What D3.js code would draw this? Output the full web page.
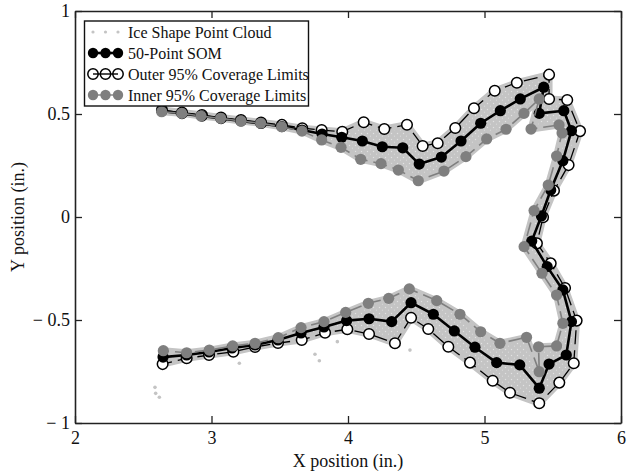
<!DOCTYPE html>
<html>
<head>
<meta charset="utf-8">
<script src="https://cdn.jsdelivr.net/npm/d3@7"></script>
<style>
  html, body { margin: 0; padding: 0; background: #fff; }
  svg { display: block; }
  text { font-family: "Liberation Serif", "Times New Roman", serif; fill: #111; }
</style>
</head>
<body>
<svg id="chart" width="627" height="473"></svg>
<script>
// ---------- data (inches) ----------
const somX = [2.637,2.784,2.930,3.070,3.216,3.363,3.516,3.663,3.810,3.954,4.105,4.251,4.401,4.522,4.684,4.828,4.972,5.116,5.262,5.434,5.401,5.581,5.637,5.574,5.485,5.417,5.346,5.459,5.574,5.637,5.599,5.473,5.401,5.258,5.089,4.930,4.779,4.625,4.462,4.320,4.154,3.990,3.824,3.656,3.487,3.319,3.150,2.982,2.818,2.645];
const somY = [0.515,0.502,0.490,0.478,0.466,0.454,0.439,0.422,0.403,0.387,0.369,0.341,0.336,0.257,0.291,0.369,0.455,0.516,0.573,0.630,0.503,0.516,0.419,0.273,0.131,0.005,-0.117,-0.241,-0.354,-0.508,-0.670,-0.714,-0.831,-0.718,-0.707,-0.632,-0.553,-0.472,-0.416,-0.508,-0.494,-0.503,-0.534,-0.563,-0.597,-0.621,-0.636,-0.655,-0.670,-0.680];

const outerX = [2.637,2.784,2.930,3.070,3.216,3.363,3.516,3.665,3.807,3.958,4.115,4.266,4.432,4.547,4.657,4.786,4.923,5.075,5.237,5.473,5.473,5.606,5.700,5.616,5.509,5.429,5.384,5.485,5.590,5.675,5.654,5.548,5.401,5.187,5.060,4.894,4.735,4.588,4.462,4.344,4.154,3.995,3.832,3.661,3.487,3.319,3.160,2.982,2.818,2.642];
const outerY = [0.519,0.507,0.495,0.483,0.471,0.459,0.447,0.431,0.422,0.414,0.460,0.427,0.448,0.345,0.358,0.432,0.528,0.613,0.652,0.691,0.573,0.568,0.417,0.252,0.128,-0.001,-0.128,-0.225,-0.345,-0.503,-0.710,-0.804,-0.904,-0.853,-0.795,-0.707,-0.630,-0.544,-0.489,-0.613,-0.568,-0.545,-0.562,-0.597,-0.612,-0.631,-0.654,-0.670,-0.686,-0.714];

const innerX = [2.635,2.782,2.923,3.067,3.216,3.360,3.514,3.663,3.807,3.949,4.093,4.242,4.369,4.515,4.703,4.864,5.016,5.158,5.289,5.401,5.341,5.546,5.568,5.528,5.467,5.363,5.290,5.421,5.528,5.574,5.528,5.396,5.401,5.308,5.113,4.972,4.820,4.650,4.449,4.298,4.149,3.983,3.824,3.656,3.489,3.319,3.155,2.984,2.818,2.647];
const innerY = [0.511,0.503,0.490,0.479,0.466,0.455,0.438,0.417,0.374,0.338,0.280,0.259,0.228,0.176,0.223,0.293,0.379,0.426,0.503,0.573,0.427,0.447,0.408,0.296,0.155,0.031,-0.144,-0.273,-0.379,-0.516,-0.626,-0.630,-0.751,-0.584,-0.613,-0.557,-0.472,-0.406,-0.349,-0.395,-0.419,-0.463,-0.508,-0.537,-0.586,-0.613,-0.626,-0.646,-0.659,-0.649];

// a few stray cloud points outside the main band
const strayX = [2.586,2.591,2.618,3.204,3.758,3.790,3.922,4.454];
const strayY = [-0.827,-0.856,-0.875,-0.710,-0.666,-0.698,-0.605,-0.646];

const xTicks = [2,3,4,5,6];
const yTicks = [-1,-0.5,0,0.5,1];
const legendLabels = ["Ice Shape Point Cloud","50-Point SOM","Outer 95% Coverage Limits","Inner 95% Coverage Limits"];

// ---------- layout ----------
const pL = 75, pR = 621, pT = 11, pB = 423;
const x = d3.scaleLinear().domain([2,6]).range([pL,pR]);
const y = d3.scaleLinear().domain([-1,1]).range([pB,pT]);

const svg = d3.select("#chart");
const CLOUD = "#c4c4c4", INNER = "#7f7f7f";

// speckled texture for the point cloud
const defs = svg.append("defs");
const pat = defs.append("pattern").attr("id", "cloudTex").attr("patternUnits", "userSpaceOnUse")
  .attr("width", 6).attr("height", 6);
pat.append("rect").attr("width", 6).attr("height", 6).attr("fill", CLOUD);
pat.append("circle").attr("cx", 1.5).attr("cy", 1.5).attr("r", 0.7).attr("fill", "#e2e2e2");
pat.append("circle").attr("cx", 4.5).attr("cy", 4.2).attr("r", 0.6).attr("fill", "#dadada");

const zip = (xs, ys) => xs.map((v,i) => [v, ys[i]]);
const som = zip(somX, somY), outer = zip(outerX, outerY), inner = zip(innerX, innerY);
const line = d3.line().x(d => x(d[0])).y(d => y(d[1]));

// point cloud band (between the coverage limits)
const band = outer.concat(inner.slice().reverse());
svg.append("path")
  .attr("d", line(band) + "Z")
  .attr("fill", "url(#cloudTex)").attr("stroke", CLOUD)
  .attr("stroke-width", 7).attr("stroke-linejoin", "round");
svg.append("g").selectAll("circle").data(zip(strayX, strayY)).join("circle")
  .attr("cx", d => x(d[0])).attr("cy", d => y(d[1])).attr("r", 1.8).attr("fill", CLOUD);

// outer limits
svg.append("path").attr("d", line(outer)).attr("fill", "none")
  .attr("stroke", "#000").attr("stroke-width", 1.3).attr("stroke-dasharray", "14,6");
svg.append("g").selectAll("circle").data(outer).join("circle")
  .attr("cx", d => x(d[0])).attr("cy", d => y(d[1])).attr("r", 5.3)
  .attr("fill", "#fff").attr("stroke", "#000").attr("stroke-width", 1.5);

// SOM
svg.append("path").attr("d", line(som)).attr("fill", "none")
  .attr("stroke", "#000").attr("stroke-width", 2.6).attr("stroke-linejoin", "round");
svg.append("g").selectAll("circle").data(som).join("circle")
  .attr("cx", d => x(d[0])).attr("cy", d => y(d[1])).attr("r", 5.6).attr("fill", "#000");

// inner limits
svg.append("path").attr("d", line(inner)).attr("fill", "none")
  .attr("stroke", INNER).attr("stroke-width", 1.6).attr("stroke-dasharray", "14,6");
svg.append("g").selectAll("circle").data(inner).join("circle")
  .attr("cx", d => x(d[0])).attr("cy", d => y(d[1])).attr("r", 5.6).attr("fill", INNER);

// ---------- axes ----------
const fmt = d => d < 0 ? "\u2212 " + Math.abs(d) : String(d);
const axStyle = g => {
  g.select(".domain").attr("stroke", "#222").attr("stroke-width", 1.6);
  g.selectAll(".tick line").attr("stroke", "#222").attr("stroke-width", 1.3);
  g.selectAll("text").style("font-family", "Liberation Serif, serif").style("font-size", "18px").attr("fill", "#111");
};
svg.append("g").attr("transform", `translate(0,${pB})`)
  .call(d3.axisBottom(x).tickValues(xTicks).tickFormat(d3.format("d")).tickSize(-7).tickSizeOuter(0).tickPadding(8))
  .call(axStyle);
svg.append("g").attr("transform", `translate(0,${pT})`)
  .call(d3.axisTop(x).tickValues(xTicks).tickFormat("").tickSize(-7).tickSizeOuter(0))
  .call(axStyle);
svg.append("g").attr("transform", `translate(${pL},0)`)
  .call(d3.axisLeft(y).tickValues(yTicks).tickFormat(fmt).tickSize(-7).tickSizeOuter(0).tickPadding(5))
  .call(axStyle);
svg.append("g").attr("transform", `translate(${pR},0)`)
  .call(d3.axisRight(y).tickValues(yTicks).tickFormat("").tickSize(-7).tickSizeOuter(0))
  .call(axStyle);

svg.append("text").attr("x", (pL+pR)/2).attr("y", 467).attr("text-anchor", "middle")
  .style("font-size", "18px").text("X position (in.)");
svg.append("text").attr("transform", `translate(24,${(pT+pB)/2}) rotate(-90)`)
  .attr("text-anchor", "middle").style("font-size", "18px").text("Y position (in.)");

// ---------- legend ----------
const lg = svg.append("g");
lg.append("rect").attr("x", 84.5).attr("y", 21).attr("width", 224).attr("height", 85)
  .attr("fill", "#fff").attr("stroke", "#111").attr("stroke-width", 1.4);
const rowY = [32, 53, 74, 95];
const mx = [93, 105.5, 118];
legendLabels.forEach((lab, i) => {
  const g = lg.append("g");
  const cy = rowY[i];
  if (i === 0) {
    mx.forEach(cx => g.append("circle").attr("cx", cx).attr("cy", cy).attr("r", 1.6).attr("fill", CLOUD));
  } else {
    const col = i === 3 ? INNER : "#000";
    g.append("line").attr("x1", mx[0]).attr("x2", mx[2]).attr("y1", cy).attr("y2", cy)
      .attr("stroke", col).attr("stroke-width", i === 1 ? 2.6 : 1.4);
    mx.forEach(cx => {
      const c = g.append("circle").attr("cx", cx).attr("cy", cy).attr("r", 5.2);
      if (i === 1) c.attr("fill", "#000");
      else if (i === 2) c.attr("fill", "none").attr("stroke", "#000").attr("stroke-width", 1.5);
      else c.attr("fill", INNER);
    });
  }
  g.append("text").attr("x", 128).attr("y", cy + 5.5).style("font-size", "16px").text(lab);
});
</script>
</body>
</html>
